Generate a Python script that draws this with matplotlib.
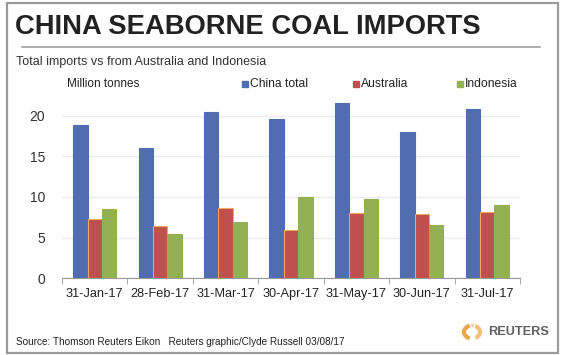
import numpy as np
import matplotlib
matplotlib.use('Agg')
import matplotlib.pyplot as plt
from matplotlib.patches import Rectangle, Arc
from matplotlib.lines import Line2D

plt.rcParams['font.family'] = ['Liberation Sans', 'DejaVu Sans']

# 数据
months = ['31-Jan-17', '28-Feb-17', '31-Mar-17', '30-Apr-17',
          '31-May-17', '30-Jun-17', '31-Jul-17']
china_total = [18.9, 16.0, 20.4, 19.6, 21.6, 18.0, 20.8]
australia = [7.3, 6.4, 8.7, 6.0, 8.0, 7.9, 8.1]
indonesia = [8.5, 5.5, 6.9, 10.0, 9.7, 6.6, 9.0]
series_names = ['China total', 'Australia', 'Indonesia']
yticks = [0, 5, 10, 15, 20]

W, H = 563, 355
fig = plt.figure(figsize=(W / 100, H / 100), dpi=100)
fig.patch.set_facecolor('white')


def fx(px):
    return px / W


def fy(py):
    return 1 - py / H


# 外框
fig.patches.append(Rectangle((fx(7), fy(352.7)), fx(558) - fx(7), fy(3.3) - fy(352.7),
                             transform=fig.transFigure, fill=False,
                             edgecolor='#9a9a9a', lw=1.6))

# 标题
fig.text(fx(15), fy(34), 'CHINA SEABORNE COAL IMPORTS', fontsize=19.7,
         fontweight='bold', color='#222222', va='baseline', ha='left')
fig.add_artist(Line2D([fx(22), fx(540)], [fy(46.7), fy(46.7)],
                      transform=fig.transFigure, color='#a0a0a0', lw=1.2))
fig.text(fx(16), fy(65), 'Total imports vs from Australia and Indonesia',
         fontsize=9, color='#333333', va='baseline', ha='left')

# 绘图区
ax_bottom = 278.3
ax_top = 99.4
ax = fig.add_axes([fx(62), fy(ax_bottom), fx(520) - fx(62),
                   (ax_bottom - ax_top) / H])
colors = ['#4f6db0', '#c0504d', '#93b153']
edges = ['#4f6db0', '#f0a860', '#93b153']
x = np.arange(len(months))
width = 0.22
for i, (vals, c, e) in enumerate(zip([china_total, australia, indonesia], colors, edges)):
    ax.bar(x + (i - 1) * width, vals, width=width, color=c, edgecolor=e,
           linewidth=0.8, zorder=3)

ax.set_xlim(-0.5, len(months) - 0.5)
ax.set_ylim(0, 22)
ax.set_yticks(yticks)
ax.yaxis.grid(True, color='#ececec', lw=1.0, zorder=0)
ax.set_xticks(x)
ax.set_xticklabels(months, fontsize=9.2, color='#222222')
ax.set_xticks(np.arange(-0.5, len(months)), minor=True)
ax.tick_params(axis='x', which='major', length=0, pad=7)
ax.tick_params(axis='x', which='minor', length=4, color='#999999', direction='out')
ax.tick_params(axis='y', length=0, pad=12, labelsize=10, labelcolor='#333333')
for s in ['top', 'right', 'left']:
    ax.spines[s].set_visible(False)
ax.spines['bottom'].set_color('#999999')

# 单位和图例
fig.text(fx(67), fy(84), 'Million tonnes', fontsize=8.5, color='#222222',
         va='center', ha='left')
legend_x = [242, 353, 457]
for lx, name, c in zip(legend_x, series_names, colors):
    fig.patches.append(Rectangle((fx(lx), fy(87)), fx(6), 6 / H,
                                 transform=fig.transFigure, color=c))
    fig.text(fx(lx + 7.5), fy(84), name, fontsize=8.7, color='#222222',
             va='center', ha='left')

# 底部
fig.text(fx(16), fy(345), 'Source: Thomson Reuters Eikon   Reuters graphic/Clyde Russell 03/08/17',
         fontsize=7.2, color='#222222', va='baseline', ha='left')
fig.text(fx(488), fy(332), 'REUTERS', fontsize=9.2, fontweight='bold',
         color='#606060', va='center', ha='left')
logo = fig.add_axes([fx(461), fy(343), fx(22), 22 / H])
logo.set_xlim(-1.1, 1.1)
logo.set_ylim(-1.1, 1.1)
logo.axis('off')
logo.add_patch(Arc((0, 0), 1.6, 1.3, theta1=110, theta2=250, color='#eaa44c', lw=3))
logo.add_patch(Arc((0, 0), 1.6, 1.3, theta1=-60, theta2=60, color='#f2c07a', lw=3))
logo.add_patch(Arc((0, 0), 1.6, 1.3, theta1=70, theta2=100, color='#f5d6a6', lw=2.5))

fig.savefig('out.png', dpi=100)
